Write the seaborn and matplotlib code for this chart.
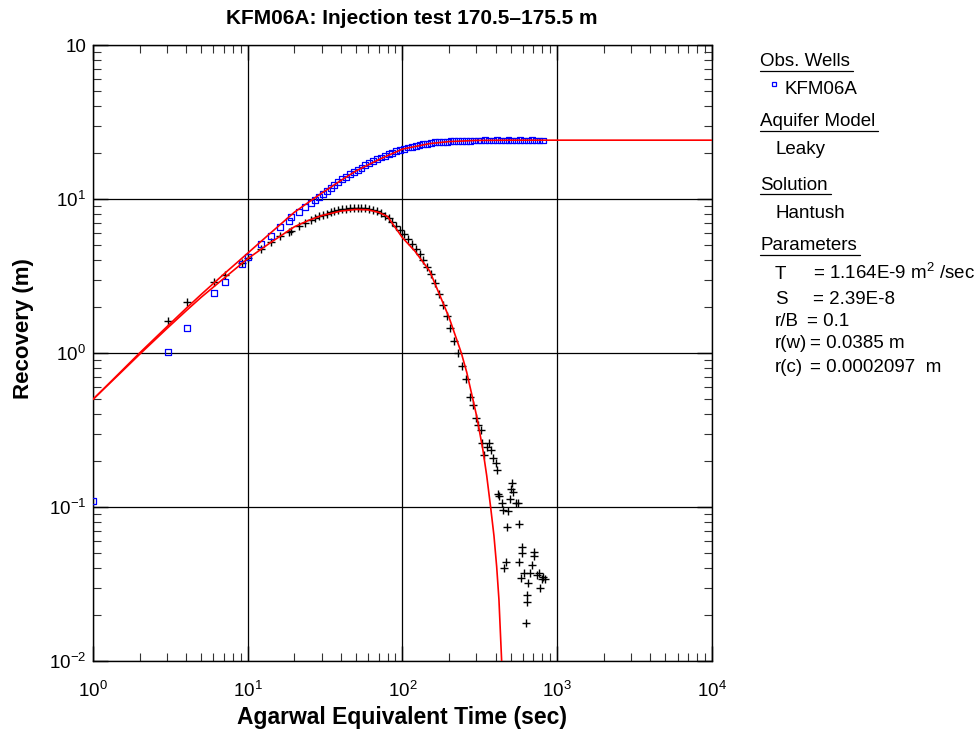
import matplotlib
matplotlib.use("Agg")
import matplotlib.pyplot as plt
import seaborn as sns
import pandas as pd
from matplotlib.lines import Line2D
from matplotlib.ticker import FixedLocator, LogLocator, NullFormatter

# ---------------- data ----------------
rec_t = [1.0, 3.05, 4.05, 6.05, 7.1, 9.2, 10.0, 12.2, 14.1, 16.2, 18.5, 19.0, 21.4, 23.4, 25.6,
         27.2, 28.8, 30.5, 32.4, 34.3, 36.3, 38.5, 40.7, 43.2, 45.7, 48.4, 51.3, 54.3, 57.5,
         61.0, 64.6, 68.4, 72.4, 76.7, 81.3, 86.1, 91.2, 96.6, 102.3, 108.4, 114.8, 121.6,
         128.8, 136.5, 144.5, 153.1, 162.2, 171.8, 182.0, 192.8, 204.2, 216.3, 229.1, 242.7,
         257.0, 272.3, 288.4, 305.5, 323.6, 342.8, 363.1, 384.6, 407.4, 431.5, 457.1, 484.2,
         512.9, 543.3, 575.4, 609.5, 645.7, 683.9, 724.4, 767.4, 812.8]
rec_s = [0.11, 1.01, 1.45, 2.45, 2.9, 3.78, 4.2, 5.1, 5.75, 6.6, 7.2, 7.6, 8.2, 8.9, 9.4,
         9.8, 10.3, 10.8, 11.3, 11.8, 12.3, 12.9, 13.4, 13.9, 14.5, 15.0, 15.5, 16.0, 16.6,
         17.1, 17.6, 18.1, 18.6, 19.1, 19.5, 20.0, 20.4, 20.8, 21.2, 21.6, 21.9, 22.2,
         22.5, 22.7, 22.9, 23.1, 23.3, 23.4, 23.5, 23.6, 23.7, 23.8, 23.8, 23.9,
         23.9, 23.9, 24.0, 24.0, 24.0, 24.1, 24.0, 24.0, 24.1, 24.0, 24.0, 24.1,
         24.0, 24.0, 24.1, 24.0, 24.0, 24.1, 24.0, 24.0, 24.0]

der_t = [3.05, 4.05, 6.05, 7.1, 9.2, 10.0, 12.2, 14.1, 16.2, 18.5, 19.0, 21.4, 23.4, 25.6,
         27.2, 28.8, 30.5, 32.4, 34.3, 36.3, 38.5, 40.7, 43.2, 45.7, 48.4, 51.3, 54.3, 57.5,
         61.0, 64.6, 68.4, 72.4, 76.7, 81.3, 86.1, 91.2, 96.6, 102.3, 108.4, 114.8, 121.6,
         128.8, 136.5, 144.5, 153.1, 162.2, 171.8, 182.0, 192.8, 204.2, 216.3, 229.1, 242.7,
         257.0, 272.3,
         285, 300, 308, 320, 326, 336, 350, 363, 372, 385, 401, 407, 417, 420, 440, 446,
         480, 473, 508, 501, 518, 495, 540, 555, 565, 595, 588, 570, 465, 450, 580, 612,
         665, 650, 690, 705, 712, 735, 760, 795, 805, 770, 830, 640, 642, 625]
der_s = [1.61, 2.14, 2.89, 3.2, 3.84, 4.15, 4.73, 5.26, 5.75, 6.1, 6.2, 6.7, 6.98, 7.3,
         7.5, 7.7, 7.9, 8.05, 8.2, 8.35, 8.45, 8.55, 8.65, 8.7, 8.75, 8.75, 8.75, 8.7,
         8.6, 8.45, 8.3, 8.1, 7.8, 7.5, 7.1, 6.7, 6.3, 5.9, 5.5, 5.1, 4.75,
         4.4, 4.0, 3.6, 3.25, 2.85, 2.4, 2.05, 1.75, 1.45, 1.2, 1.0, 0.82,
         0.68, 0.52,
         0.46, 0.38, 0.34, 0.316, 0.26, 0.218, 0.245, 0.26, 0.234, 0.209, 0.193, 0.174, 0.121,
         0.117, 0.106, 0.096, 0.094, 0.074, 0.143, 0.131, 0.125, 0.113, 0.106, 0.106, 0.078,
         0.055, 0.050, 0.044, 0.044, 0.040, 0.0346, 0.037, 0.037, 0.032, 0.042, 0.051, 0.048,
         0.036, 0.037, 0.034, 0.035, 0.030, 0.034, 0.027, 0.024, 0.0177]

fit_rec_t = [1, 1.5, 2, 3, 4, 5, 7, 10, 14, 20, 25, 30, 40, 50, 70, 100, 150, 200, 300,
             500, 1000, 10000]
fit_rec_s = [0.50, 0.75, 1.0, 1.48, 1.95, 2.4, 3.25, 4.45, 6.0, 8.2, 9.6, 10.9, 13.2, 15.2,
             18.0, 21.1, 22.9, 23.6, 24.0, 24.1, 24.1, 24.1]

fit_der_t = [1, 1.5, 2, 3, 4, 5, 7, 10, 14, 20, 25, 30, 40, 50, 60, 70, 80, 100, 120, 150,
             200, 240, 260, 285, 303, 331, 350, 371, 390, 406, 420, 437, 445]
fit_der_s = [0.50, 0.74, 0.98, 1.44, 1.88, 2.3, 3.05, 4.1, 5.2, 6.6, 7.3, 7.8, 8.35, 8.55,
             8.5, 8.2, 7.7, 5.6, 4.6, 3.4, 1.7, 1.0, 0.75, 0.5, 0.38, 0.234, 0.16, 0.1,
             0.065, 0.041, 0.025, 0.0101, 0.008]

x_ticks = [1, 10, 100, 1000, 10000]
x_ticklabels = ["10$^{0}$", "10$^{1}$", "10$^{2}$", "10$^{3}$", "10$^{4}$"]
y_ticks = [0.01, 0.1, 1, 10, 100]
y_ticklabels = ["10$^{-2}$", "10$^{-1}$", "10$^{0}$", "10$^{1}$", "10"]

# ---------------- style ----------------
sns.set_theme(style="white")
plt.rcParams["font.family"] = ["Liberation Sans", "DejaVu Sans"]
plt.rcParams["mathtext.fontset"] = "custom"
plt.rcParams["mathtext.rm"] = "Liberation Sans"
plt.rcParams["mathtext.it"] = "Liberation Sans:italic"
plt.rcParams["mathtext.bf"] = "Liberation Sans:bold"
plt.rcParams["text.color"] = "black"
plt.rcParams["axes.labelcolor"] = "black"
plt.rcParams["xtick.color"] = "black"
plt.rcParams["ytick.color"] = "black"

W, H = 979, 733
fig = plt.figure(figsize=(W / 100, H / 100), dpi=100)
ax = fig.add_axes([93 / W, 1 - 661 / H, (712 - 93) / W, (661 - 45) / H])
ax.set_xscale("log")
ax.set_yscale("log")

df_rec = pd.DataFrame({"t": rec_t, "s": rec_s})
df_der = pd.DataFrame({"t": der_t, "s": der_s})
df_fr = pd.DataFrame({"t": fit_rec_t, "s": fit_rec_s})
df_fd = pd.DataFrame({"t": fit_der_t, "s": fit_der_s})

sns.lineplot(data=df_fr, x="t", y="s", color="#ff0000", linewidth=1.2, sort=False,
             estimator=None, ax=ax, zorder=4)
sns.lineplot(data=df_fd, x="t", y="s", color="#ff0000", linewidth=1.2, sort=False,
             estimator=None, ax=ax, zorder=4)
sns.scatterplot(data=df_der, x="t", y="s", marker="+", s=36, color="black",
                linewidth=1.0, ax=ax, zorder=3)
sns.scatterplot(data=df_rec, x="t", y="s", marker="s", s=18, facecolors="none",
                edgecolors="#0000ff", linewidth=0.9, ax=ax, zorder=3)

ax.set_xlim(1, 10000)
ax.set_ylim(0.01, 100)
ax.xaxis.set_major_locator(FixedLocator(x_ticks))
ax.set_xticklabels(x_ticklabels, fontsize=13.5)
ax.yaxis.set_major_locator(FixedLocator(y_ticks))
ax.set_yticklabels(y_ticklabels, fontsize=13.5)
ax.xaxis.set_minor_locator(LogLocator(base=10, subs=range(2, 10)))
ax.yaxis.set_minor_locator(LogLocator(base=10, subs=range(2, 10)))
ax.xaxis.set_minor_formatter(NullFormatter())
ax.yaxis.set_minor_formatter(NullFormatter())
ax.tick_params(which="major", direction="in", length=11, width=1.0, color="black",
               top=True, right=True, bottom=True, left=True)
ax.tick_params(axis="x", which="major", pad=14)
ax.tick_params(axis="y", which="major", pad=5)
ax.tick_params(which="minor", direction="in", length=6, width=0.8, color="#333333",
               top=True, right=True, bottom=True, left=True)
ax.grid(True, which="major", color="black", linewidth=0.9)
for sp in ax.spines.values():
    sp.set_color("black")
    sp.set_linewidth(1.0)

ax.set_xlabel("Agarwal Equivalent Time (sec)", fontsize=16.5, fontweight="bold", labelpad=4)
ax.set_ylabel("Recovery (m)", fontsize=16, fontweight="bold", labelpad=12)
ax.yaxis.set_label_coords(-0.095, 0.539)
fig.text(412 / W, 1 - 19 / H, "KFM06A: Injection test 170.5\u2013175.5 m", fontsize=15,
         fontweight="bold", ha="center", va="center")


# ---------------- side panel ----------------
def ftext(x, y, s, **kw):
    # y is the vertical centre of capital letters; place by baseline
    return fig.text(x / W, 1 - (y + 6.5) / H, s, ha="left", va="baseline",
                    fontsize=13.5, **kw)


heads = []
heads.append(ftext(760, 60, "Obs. Wells"))
ftext(785, 87, "KFM06A")
heads.append(ftext(760, 120, "Aquifer Model"))
ftext(776, 148, "Leaky")
heads.append(ftext(760, 183, "Solution"))
ftext(776, 211, "Hantush")
heads.append(ftext(760, 244, "Parameters"))
ftext(775, 273, "T")
ftext(813, 273, "= 1.164E-9 m$^{2}$ /sec")
ftext(775, 297, "S")
ftext(813, 297, "= 2.39E-8")
ftext(775, 320, "r/B")
ftext(807, 320, "= 0.1")
ftext(775, 342, "r(w)")
ftext(810, 342, "= 0.0385 m")
ftext(775, 365, "r(c)")
ftext(810, 365, "= 0.0002097  m")

fig.add_artist(Line2D([774 / W], [1 - 84 / H], marker="s", markersize=3.5,
                      markerfacecolor="none", markeredgecolor="#0000ff",
                      markeredgewidth=0.9, linestyle="none", transform=fig.transFigure))

fig.canvas.draw()
r = fig.canvas.get_renderer()
for t in heads:
    bb = t.get_window_extent(r)
    yy = bb.y0 - 0.5
    fig.add_artist(Line2D([bb.x0 / W, (bb.x1 + 3) / W], [yy / H, yy / H],
                          color="black", linewidth=0.9, transform=fig.transFigure))

fig.savefig("out.png", dpi=100)
